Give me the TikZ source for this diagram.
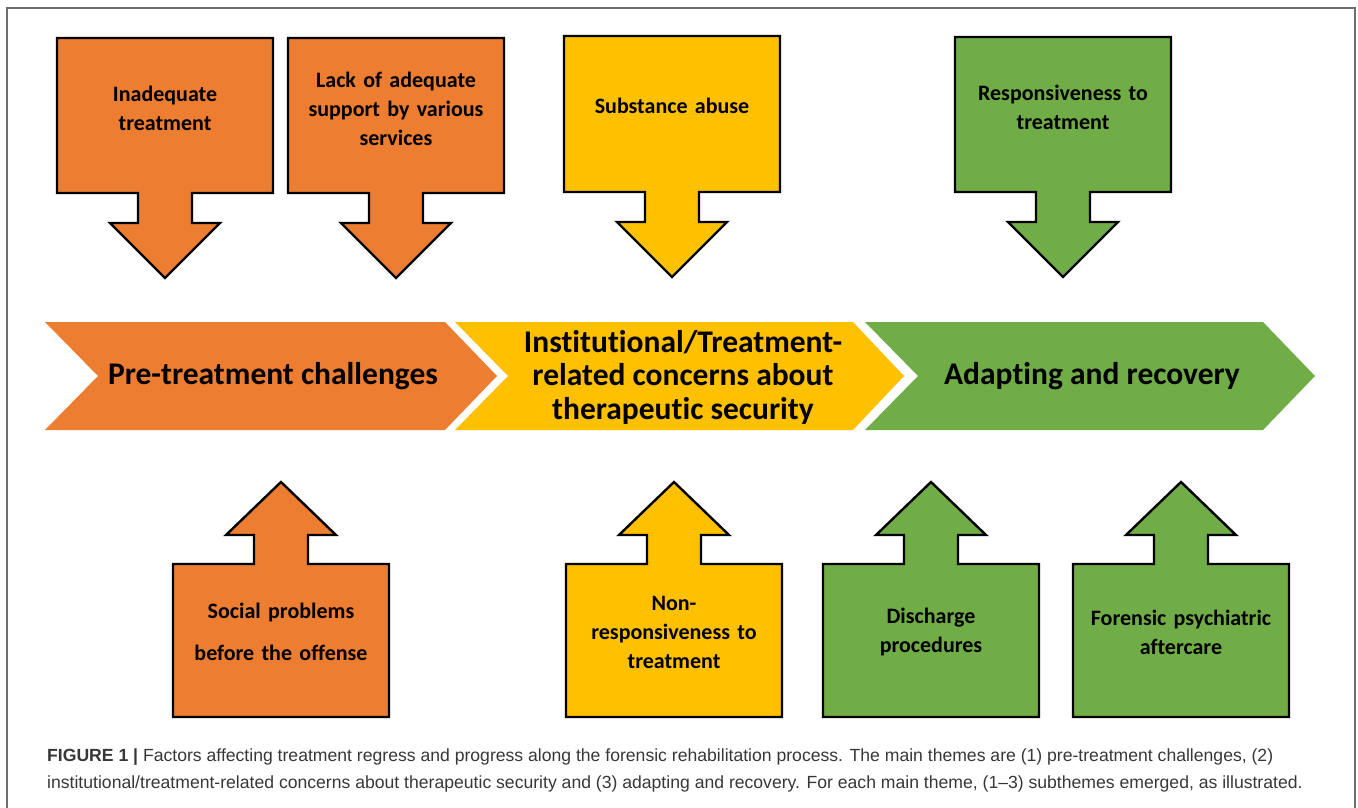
\documentclass[tikz,border=0pt]{standalone}
\usepackage{fontspec}
\setmainfont{Carlito}[Ligatures=NoCommon]
\newfontfamily\capfont{Liberation Sans}
\usetikzlibrary{positioning}
\definecolor{themeorange}{RGB}{237,125,49}
\definecolor{themeyellow}{RGB}{255,192,0}
\definecolor{themegreen}{RGB}{112,173,71}
\definecolor{framegray}{RGB}{110,110,110}
\definecolor{capgray}{RGB}{55,55,55}

\tikzset{
  callout/.style={draw=black, line width=2.4pt, line join=miter},
  boxtext/.style={font=\fontsize{22}{29}\selectfont\bfseries, align=center, text width=210pt, inner sep=0pt},
  themetext/.style={font=\fontsize{31.5}{33.5}\selectfont\bfseries, align=center, inner sep=0pt},
}

\begin{document}
\begin{tikzpicture}[x=1pt, y=-1pt]
  \useasboundingbox (0,0) rectangle (1358,808);
  % Frame
  \draw[framegray, line width=2pt] (7,808) -- (7,8) -- (1355,8) -- (1355,808);

  % Theme chevrons
  \fill[themeorange] (45,322) -- (445,322) -- (497,376) -- (445,430) -- (45,430) -- (98,376) -- cycle;
  \fill[themeyellow] (455,322) -- (853,322) -- (904,376) -- (853,430) -- (455,430) -- (508,376) -- cycle;
  \fill[themegreen] (865,322) -- (1263,322) -- (1315,376) -- (1263,430) -- (865,430) -- (918,376) -- cycle;
  \node[themetext] (pre) at (273,376) {Pre-treatment challenges};
  \node[themetext] (inst) at (683,377) {Institutional/Treatment-\\related concerns about\\therapeutic security};
  \node[themetext] (adapt) at (1092,376) {Adapting and recovery};

  % Subthemes above (down arrows)
  \draw[callout, fill=themeorange, shift={(165,0)}] (-108,38) -- (108,38) -- (108,193) -- (27,193) -- (27,223) -- (55,223) -- (0,278) -- (-55,223) -- (-27,223) -- (-27,193) -- (-108,193) -- cycle;
  \draw[callout, fill=themeorange, shift={(396,0)}] (-108,38) -- (108,38) -- (108,193) -- (27,193) -- (27,223) -- (55,223) -- (0,278) -- (-55,223) -- (-27,223) -- (-27,193) -- (-108,193) -- cycle;
  \draw[callout, fill=themeyellow, shift={(672,0)}] (-108,36) -- (108,36) -- (108,192) -- (27,192) -- (27,222) -- (55,222) -- (0,277) -- (-55,222) -- (-27,222) -- (-27,192) -- (-108,192) -- cycle;
  \draw[callout, fill=themegreen, shift={(1063,0)}] (-108,37) -- (108,37) -- (108,192) -- (27,192) -- (27,222) -- (55,222) -- (0,277) -- (-55,222) -- (-27,222) -- (-27,192) -- (-108,192) -- cycle;
  \node[boxtext] (inadequate) at (165,108) {Inadequate\\treatment};
  \node[boxtext] (support) at (396,109) {Lack of adequate\\support by various\\services};
  \node[boxtext] (substance) at (672,106) {Substance abuse};
  \node[boxtext] (responsive) at (1063,107) {Responsiveness to\\treatment};

  % Subthemes below (up arrows)
  \draw[callout, fill=themeorange, shift={(281,0)}] (-108,717) -- (108,717) -- (108,564) -- (27,564) -- (27,535) -- (55,535) -- (0,482) -- (-55,535) -- (-27,535) -- (-27,564) -- (-108,564) -- cycle;
  \draw[callout, fill=themeyellow, shift={(674,0)}] (-108,717) -- (108,717) -- (108,564) -- (27,564) -- (27,535) -- (55,535) -- (0,482) -- (-55,535) -- (-27,535) -- (-27,564) -- (-108,564) -- cycle;
  \draw[callout, fill=themegreen, shift={(931,0)}] (-108,717) -- (108,717) -- (108,564) -- (27,564) -- (27,535) -- (55,535) -- (0,482) -- (-55,535) -- (-27,535) -- (-27,564) -- (-108,564) -- cycle;
  \draw[callout, fill=themegreen, shift={(1181,0)}] (-108,717) -- (108,717) -- (108,564) -- (27,564) -- (27,535) -- (55,535) -- (0,482) -- (-55,535) -- (-27,535) -- (-27,564) -- (-108,564) -- cycle;
  \node[boxtext] (social) at (281,632) {Social problems\\[13pt]before the offense};
  \node[boxtext] (nonresp) at (674,632) {Non-\\responsiveness to\\treatment};
  \node[boxtext] (discharge) at (931,632) {Discharge\\procedures};
  \node[boxtext] (aftercare) at (1181,632) {Forensic psychiatric\\aftercare};

  % Caption
  \node[anchor=west, align=left, inner sep=0pt, text=capgray, font=\capfont\fontsize{17.6}{27}\selectfont] (caption) at (47,770) {
    {\bfseries FIGURE 1 |} Factors affecting treatment regress and progress along the forensic rehabilitation process. The main themes are (1) pre-treatment challenges, (2)\\
    institutional/treatment-related concerns about therapeutic security and (3) adapting and recovery. For each main theme, (1\textendash3) subthemes emerged, as illustrated.
  };
\end{tikzpicture}
\end{document}
